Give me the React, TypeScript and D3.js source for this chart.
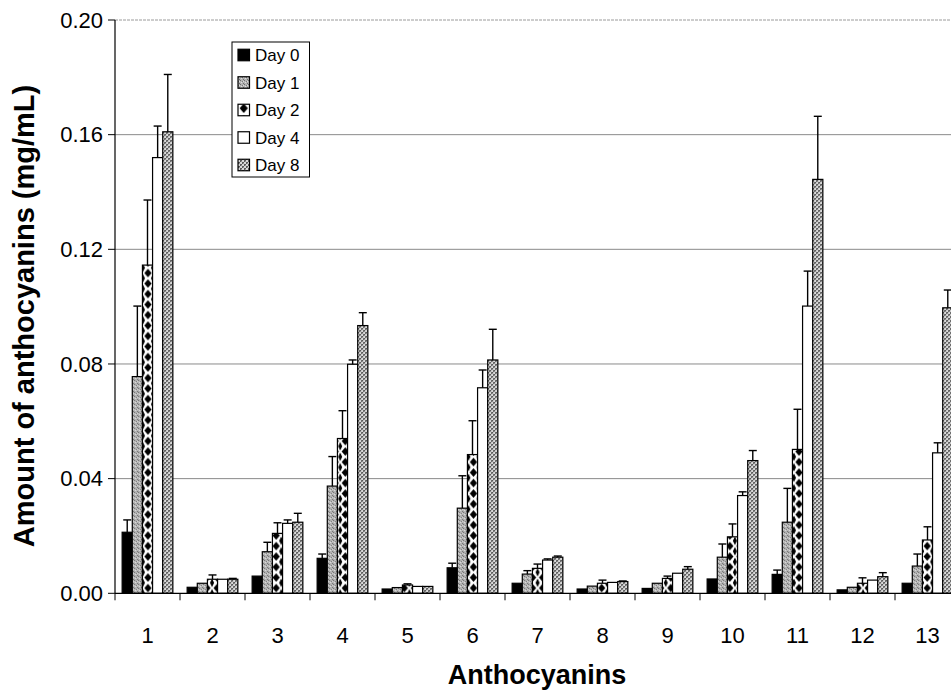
import React from 'react';
import * as d3 from 'd3';

// anthocyanin peak numbers
const categories = ['1', '2', '3', '4', '5', '6', '7', '8', '9', '10', '11', '12', '13'];
const seriesNames = ['Day 0', 'Day 1', 'Day 2', 'Day 4', 'Day 8'];

// mean amounts (mg/mL)
const day0 = [0.0213, 0.0021, 0.006, 0.0122, 0.0015, 0.0089, 0.0035, 0.0015, 0.0017, 0.005, 0.0066, 0.0012, 0.0035];
const day1 = [0.0756, 0.0035, 0.0145, 0.0374, 0.002, 0.0297, 0.0067, 0.0025, 0.0035, 0.0126, 0.0248, 0.0021, 0.0095];
const day2 = [0.1145, 0.0049, 0.0209, 0.054, 0.0029, 0.0484, 0.0087, 0.0035, 0.0052, 0.0197, 0.0502, 0.0035, 0.0186];
const day4 = [0.152, 0.0049, 0.0244, 0.0799, 0.0024, 0.0717, 0.0116, 0.0038, 0.007, 0.0341, 0.1002, 0.0046, 0.049];
const day8 = [0.161, 0.0049, 0.0248, 0.0934, 0.0024, 0.0814, 0.0126, 0.0041, 0.0084, 0.0463, 0.1444, 0.0058, 0.0996];

// standard deviations (only the upper bar is drawn)
const sd0 = [0.0043, 0, 0, 0.0015, 0, 0.0016, 0, 0, 0, 0, 0.0015, 0, 0];
const sd1 = [0.0246, 0, 0.0033, 0.0103, 0, 0.0113, 0.0012, 0, 0, 0.0046, 0.0118, 0, 0.0042];
const sd2 = [0.0227, 0.0015, 0.0037, 0.0097, 0.0004, 0.0118, 0.0015, 0.0011, 0.0008, 0.0045, 0.014, 0.0019, 0.0046];
const sd4 = [0.011, 0, 0.0012, 0.0015, 0, 0.0062, 0.0004, 0, 0, 0.0013, 0.0122, 0, 0.0035];
const sd8 = [0.02, 0.0003, 0.0031, 0.0045, 0, 0.0107, 0.0004, 0.0002, 0.0009, 0.0035, 0.022, 0.0014, 0.0062];

const yTicks = [0, 0.04, 0.08, 0.12, 0.16, 0.2];

const means = [day0, day1, day2, day4, day8];
const sds = [sd0, sd1, sd2, sd4, sd8];

const W = 951;
const H = 692;
const FONT = '"Liberation Sans", Arial, sans-serif';

export default function App() {
  const x0 = d3.scaleBand().domain(categories).range([115, 960]).paddingInner(0.22).paddingOuter(0.11);
  const x1 = d3.scaleBand().domain(seriesNames).range([0, x0.bandwidth()]);
  const y = d3.scaleLinear().domain([0, 0.2]).range([593.3, 20]);
  const bw = x1.bandwidth();
  const fmt = d3.format('.2f');

  const fillFor = (s: number, ci: number) => {
    if (s === 0) return '#000';
    if (s === 1) return 'url(#pDay1)';
    if (s === 2) return `url(#pDay2-${ci})`;
    if (s === 3) return '#fff';
    return 'url(#pDay8)';
  };

  // diamond pattern, one per group so it lines up with the bar
  const diamond = (w: number, h: number) => {
    const cx = w / 2, cy = h / 2, rx = w * 0.36, ry = h * 0.42;
    return {
      center: `M${cx},${cy - ry}L${cx + rx},${cy}L${cx},${cy + ry}L${cx - rx},${cy}Z`,
      edges: `M0,${-ry}L${rx * 0.55},0L0,${ry}Z M${w},${-ry}L${w - rx * 0.55},0L${w},${ry}Z M0,${h - ry}L${rx * 0.55},${h}L0,${h + ry}Z M${w},${h - ry}L${w - rx * 0.55},${h}L${w},${h + ry}Z`,
    };
  };
  const dh = 10.5;
  const dm = diamond(bw, dh);

  const legendX = 232, legendY = 42;
  const legendRows = seriesNames.map((n, i) => ({ n, i, cy: 55 + i * 27.5 }));

  return (
    <svg width={W} height={H} style={{ position: 'absolute', left: 0, top: 0, background: '#fff' }} fontFamily={FONT}>
      <defs>
        <pattern id="pDay1" patternUnits="userSpaceOnUse" width="4" height="4">
          <rect width="4" height="4" fill="#b4b4b4" />
          <rect x="0" y="0" width="1" height="1" fill="#6e6e6e" />
          <rect x="2" y="1" width="1" height="1" fill="#7a7a7a" />
          <rect x="1" y="2" width="1" height="1" fill="#e0e0e0" />
          <rect x="3" y="3" width="1" height="1" fill="#6e6e6e" />
          <rect x="3" y="1" width="1" height="1" fill="#dcdcdc" />
        </pattern>
        <pattern id="pDay8" patternUnits="userSpaceOnUse" width="4" height="4">
          <rect width="4" height="4" fill="#d8d8d8" />
          <rect x="0" y="0" width="2" height="2" fill="#5a5a5a" />
          <rect x="2" y="2" width="2" height="2" fill="#5a5a5a" />
          <rect x="1" y="1" width="1" height="1" fill="#999" />
          <rect x="3" y="3" width="1" height="1" fill="#999" />
        </pattern>
        {categories.map((c, ci) => (
          <pattern key={c} id={`pDay2-${ci}`} patternUnits="userSpaceOnUse"
            x={(x0(c) ?? 0) + (x1('Day 2') ?? 0)} y={y(0)} width={bw} height={dh}>
            <rect width={bw} height={dh} fill="#fff" />
            <path d={dm.center} fill="#000" />
            <path d={dm.edges} fill="#000" />
          </pattern>
        ))}
        <pattern id="pDay2-legend" patternUnits="userSpaceOnUse" x={238} y={102.5} width={11.5} height={11.5}>
          <rect width={11.5} height={11.5} fill="#fff" />
          <path d={diamond(11.5, 11.5).center} fill="#000" />
        </pattern>
      </defs>

      {/* gridlines */}
      {yTicks.slice(1).map(t => (
        <line key={t} x1={115} x2={960} y1={y(t)} y2={y(t)}
          stroke={t === 0.2 ? '#9a9a9a' : '#8a8a8a'} strokeWidth={1}
          strokeDasharray={t === 0.2 ? '3,1' : undefined} />
      ))}

      {/* bars */}
      {categories.map((c, ci) => (
        <g key={c} transform={`translate(${x0(c)},0)`}>
          {seriesNames.map((s, si) => {
            const v = means[si][ci];
            const e = sds[si][ci];
            const bx = x1(s) ?? 0;
            return (
              <g key={s}>
                <rect x={bx} y={y(v)} width={bw} height={y(0) - y(v)}
                  fill={fillFor(si, ci)} stroke="#000" strokeWidth={1.2} />
                {e > 0 && (
                  <g stroke="#000" strokeWidth={1.4}>
                    <line x1={bx + bw / 2} x2={bx + bw / 2} y1={y(v)} y2={y(v + e)} />
                    <line x1={bx + bw / 2 - 4} x2={bx + bw / 2 + 4} y1={y(v + e)} y2={y(v + e)} />
                  </g>
                )}
              </g>
            );
          })}
        </g>
      ))}

      {/* axes */}
      <line x1={115} x2={115} y1={y(0.2)} y2={y(0)} stroke="#000" strokeWidth={1.2} />
      <line x1={115} x2={960} y1={y(0)} y2={y(0)} stroke="#000" strokeWidth={1.2} />
      {yTicks.map(t => (
        <g key={t}>
          <line x1={108} x2={115} y1={y(t)} y2={y(t)} stroke="#000" strokeWidth={1} />
          <text x={103} y={y(t)} dy="0.35em" textAnchor="end" fontSize={22} fill="#000">{fmt(t)}</text>
        </g>
      ))}
      {categories.map((c, i) => (
        <g key={c}>
          <line x1={115 + x0.step() * i} x2={115 + x0.step() * i} y1={y(0)} y2={y(0) + 7} stroke="#000" strokeWidth={1} />
          <text x={(x0(c) ?? 0) + x0.bandwidth() / 2} y={643} textAnchor="middle" fontSize={22} fill="#000">{c}</text>
        </g>
      ))}

      <text x={537} y={684} textAnchor="middle" fontSize={27} fontWeight="bold" fill="#000">Anthocyanins</text>
      <text transform={`translate(34,316) rotate(-90)`} textAnchor="middle" fontSize={29} fontWeight="bold" fill="#000">
        Amount of anthocyanins (mg/mL)
      </text>

      {/* legend */}
      <rect x={legendX} y={legendY} width={77.5} height={135} fill="#fff" stroke="#000" strokeWidth={1} />
      {legendRows.map(r => (
        <g key={r.n}>
          <rect x={238} y={r.cy - 5.75} width={11.5} height={11.5}
            fill={r.i === 2 ? 'url(#pDay2-legend)' : fillFor(r.i, 0)} stroke="#000" strokeWidth={1.2} />
          <text x={255} y={r.cy} dy="0.36em" fontSize={17} fill="#000">{r.n}</text>
        </g>
      ))}
    </svg>
  );
}
